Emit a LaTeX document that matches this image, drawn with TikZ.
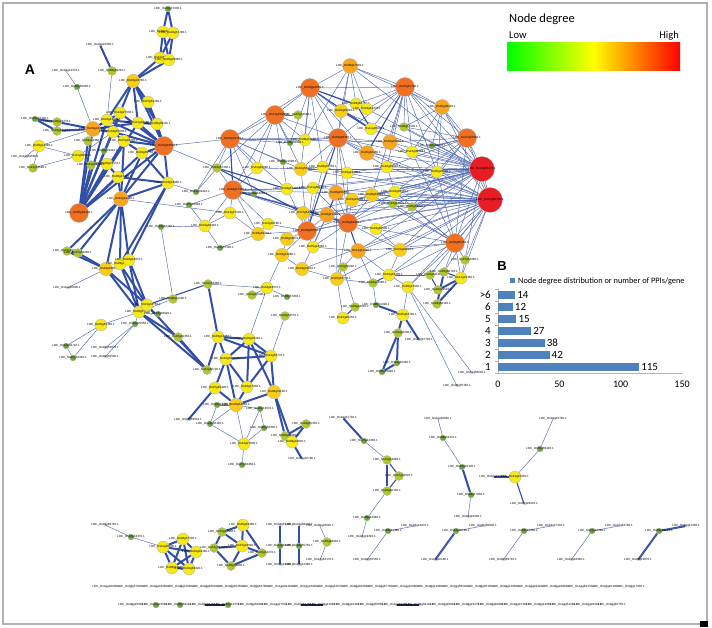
\documentclass[tikz,border=0pt]{standalone}
\usepackage{fontspec}
\setmainfont{Carlito}
\newfontfamily\arialfont{Liberation Sans}
\pgfdeclarelayer{edges}
\pgfsetlayers{edges,main}

\definecolor{dgA}{RGB}{112,168,56}
\definecolor{dgB}{RGB}{175,200,45}
\definecolor{dgC}{RGB}{248,232,20}
\definecolor{dgD}{RGB}{250,205,20}
\definecolor{dgE}{RGB}{247,165,30}
\definecolor{dgF}{RGB}{240,112,35}
\definecolor{dgG}{RGB}{232,28,36}
\definecolor{edgeblue}{RGB}{50,78,165}
\definecolor{navy}{RGB}{25,35,90}
\definecolor{barblue}{RGB}{79,129,189}

\tikzset{
  gene/.style={circle, draw=black!30, line width=0.3pt, inner sep=0pt},
  deg0/.style={circle, fill=black!75, inner sep=0pt, minimum size=1.2pt},
  deg1/.style={gene, fill=dgA, minimum size=6pt},
  deg2/.style={gene, fill=dgB, minimum size=9pt},
  deg3/.style={gene, fill=dgC, minimum size=12pt},
  deg4/.style={gene, fill=dgD, minimum size=13.5pt},
  deg5/.style={gene, fill=dgE, minimum size=15pt},
  deg6/.style={gene, fill=dgF, minimum size=19pt},
  deg7/.style={gene, fill=dgG, minimum size=25pt},
  lbl/.style={font=\arialfont\fontsize{3}{3}\selectfont, inner sep=0pt},
  soft/.style={draw=edgeblue!85, line width=0.45pt},
  mid/.style={draw=edgeblue, line width=1.1pt},
  hard/.style={draw=edgeblue, line width=2pt},
  chart/.style={font=\fontsize{11}{11}\selectfont, inner sep=1pt},
}

% gene node: name, x, y, degree class, seed for the id
\newcommand{\gene}[5]{%
  \pgfmathtruncatemacro\gchr{mod((#5)*7,12)+1}%
  \pgfmathtruncatemacro\gna{mod((#5)*37,60)+10}%
  \pgfmathtruncatemacro\gnb{mod((#5)*53,90)*10+100}%
  \edef\gtxt{LOC\noexpand\_Os\ifnum\gchr<10 0\fi\gchr g\gna\gnb.1}%
  \node[deg#4, label={[lbl]center:\gtxt}] (#1) at (#2,#3) {};}

\begin{document}
\begin{tikzpicture}[x=1pt, y=-1pt]
  \useasboundingbox (0,0) rectangle (712,628);
  \draw[black!30, line width=1.2pt] (3,3) rectangle (707,624);
  \fill[black] (700,621) rectangle (708,627);

  % big cluster
  \foreach \n/\x/\y/\d [count=\i] in {m1/350/66/5, m2/310/88/6, m3/405/87/6, m4/442/107/5, m5/275/115/6,
    m6/298/115/2, m7/341/111/4, m8/356/104/3, m9/367/109/3, m10/371/129/3, m11/404/127/2, m12/230/139/6,
    m13/305/140/3, m14/338/138/6, m15/390/142/5, m16/367/153/5, m17/412/152/3, m18/467/138/6, m19/432/146/1,
    m20/290/143/1, m21/217/168/2, m22/257/168/3, m23/283/162/1, m24/301/169/4, m25/323/167/3, m26/347/173/3,
    m27/387/167/3, m28/437/172/3, m29/482/169/7, m30/490/200/7, m31/233/190/6, m32/254/194/1, m33/287/189/3,
    m34/313/188/3, m35/336/193/5, m36/352/200/4, m37/372/195/4, m38/395/192/3, m39/393/204/2, m40/412/207/2,
    m41/230/213/3, m42/303/213/4, m43/327/215/5, m44/348/223/6, m45/307/231/6, m46/268/224/3, m47/258/234/4,
    m48/205/226/3, m49/287/239/4, m50/376/229/3, m51/220/248/1, m52/313/247/3, m53/358/251/5, m54/400/250/4,
    m55/455/243/6, m56/282/255/4, m57/302/269/4, m58/343/267/2, m59/337/279/4, m60/389/275/3, m61/408/287/3,
    m62/373/283/2, m63/430/275/2, m64/444/272/2, m65/461/278/3, m66/465/260/2, m67/438/290/2, m68/437/304/2,
    m69/267/288/3, m70/252/295/2, m71/287/297/1, m72/208/284/2, m73/376/305/1, m74/355/307/2, m75/343/318/3,
    m76/403/315/3, m77/196/192/1, m78/189/205/1, m79/285/316/2, m80/398/333/2, m81/419/340/0, m82/397/363/1,
    m83/382/372/1, m84/472/373/0, m85/457/386/0}
    {\gene{\n}{\x}{\y}{\d}{\i}}

  % left cluster
  \foreach \n/\x/\y/\d [count=\i] in {l1/168/9/1, l2/163/32/3, l3/173/33/3, l4/160/58/3, l5/169/60/3,
    l6/100/45/0, l7/112/71/2, l8/133/81/4, l9/66/71/0, l10/77/87/1, l11/120/113/3, l12/148/102/3,
    l13/107/120/3, l14/93/129/5, l15/113/132/3, l16/138/123/3, l17/157/124/3, l18/164/146/6, l19/57/122/2,
    l20/57/131/2, l21/35/119/1, l22/39/146/3, l23/33/168/2, l24/124/141/3, l25/142/153/3, l26/88/141/2,
    l27/104/151/1, l28/78/156/3, l29/107/164/3, l30/91/165/2, l31/118/177/3, l32/168/183/3, l33/121/199/5,
    l34/79/213/6, l35/67/251/2, l36/78/253/2, l37/106/269/4, l38/120/264/3, l39/129/260/3, l40/67/288/0,
    l41/139/312/3, l42/147/305/3, l43/173/299/2, l44/158/314/1, l45/135/324/1, l46/101/325/3, l47/66/346/1,
    l48/73/358/1, l49/105/348/0, l50/105/357/0, l51/161/227/1, l52/25/157/0}
    {\gene{\n}{\x}{\y}{\d}{\i+90}}

  % lower middle cluster
  \foreach \n/\x/\y/\d [count=\i] in {q1/218/337/3, q2/226/359/3, q3/249/339/3, q4/271/356/3, q5/215/388/3,
    q6/247/387/3, q7/236/405/4, q8/274/392/4, q9/207/370/2, q10/178/337/2, q11/217/405/1, q12/188/420/0,
    q13/210/424/1, q14/260/409/1, q15/264/428/1, q16/244/444/3, q17/242/465/1, q18/285/436/2, q19/292/442/3,
    q20/306/424/2, q21/302/459/0}
    {\gene{\n}{\x}{\y}{\d}{\i+145}}

  % small pieces
  \foreach \n/\x/\y/\d [count=\i] in {g1/343/418/0, g2/364/441/1, g3/387/460/2, g4/399/476/2, g5/387/491/2,
    g6/367/518/1, g7/362/537/0, h1/438/419/0, h2/443/438/1, h3/462/467/1, h4/471/495/1, h5/468/517/0,
    k1/553/419/0, k2/540/449/1, k3/515/477/3, k4/493/477/0, k5/524/504/0,
    b1/105/525/0, b2/131/537/1, b3/163/547/3, b4/183/539/3, b5/196/552/3, b6/172/568/3, b7/189/569/3,
    c1/222/532/2, c2/243/525/3, c3/214/548/2, c4/242/546/3, c5/262/553/2, c6/231/566/2,
    e1/280/525/0, e2/280/546/1, e3/280/565/0, e4/299/525/0, e5/299/546/1, e6/299/565/0,
    f1/327/542/2, f2/320/526/0, f3/320/560/0}
    {\gene{\n}{\x}{\y}{\d}{\i+170}}
  \foreach \x [count=\i] in {388,456,524,592,659} {
    \gene{pa\i}{\x}{531}{1}{\i+212}
    \gene{pb\i}{\x+27}{526}{0}{\i+218}
    \gene{pc\i}{\x-21}{560}{0}{\i+224}
  }

  % rows of pairs
  \foreach \i in {0,...,21} {\gene{ra\i}{106+\i*25}{587}{0}{\i+250}}
  \foreach \d [count=\i from 0] in {0,1,1,0,1,0,0,0,0,0,0,0,0,0,0,0,0,0,0,0,0}
    {\gene{rb\i}{132+\i*24}{605}{\d}{\i+275}}

  \begin{pgfonlayer}{edges}
    % hubs of the big cluster
    \foreach \h/\ts in {
      m29/{m1,m3,m4,m7,m9,m10,m11,m14,m15,m16,m17,m18,m19,m24,m26,m27,m28,m30,m33,m34,m35,m36,m37,m38,m40,m42,m43,m44,m45,m50,m53,m54,m55,m66},
      m30/{m3,m4,m14,m15,m16,m18,m24,m26,m27,m28,m34,m35,m36,m37,m38,m39,m40,m42,m43,m44,m45,m50,m53,m54,m55,m57,m59,m60,m61,m63,m64,m65,m66},
      m2/{m1,m3,m5,m7,m8,m12,m13,m14,m16,m20,m24,m25},
      m3/{m1,m4,m8,m9,m10,m11,m14,m15,m17,m18,m27,m28,m37},
      m5/{m6,m12,m13,m14,m20,m21,m22,m24,m31,m33},
      m12/{m13,m14,m15,m20,m21,m22,m23,m24,m31,m32,m33},
      m14/{m7,m13,m15,m16,m24,m25,m26,m27,m35,m44},
      m18/{m4,m11,m15,m17,m19,m27,m28,m38,m40,m55},
      m31/{m21,m22,m32,m33,m34,m35,m41,m42,m43,m46,m47,m48},
      m44/{m26,m34,m35,m36,m37,m38,m42,m43,m45,m50,m52,m54,m59},
      m45/{m24,m25,m33,m34,m42,m43,m46,m47,m49,m52,m56},
      m55/{m17,m28,m37,m38,m39,m40,m50,m53,m54,m60,m61,m64,m65,m66},
      m1/{m4,m7,m8,m9,m13,m14}}
      {\foreach \t in \ts {\draw[soft] (\h) -- (\t);}}
    \foreach \a/\b in {m4/m11, m4/m17, m4/m28, m4/m19, m22/m24, m24/m25, m25/m26, m26/m27, m27/m38,
      m36/m37, m33/m34, m41/m48, m41/m47, m46/m47, m49/m56, m56/m57, m57/m59, m52/m53, m53/m58, m58/m59,
      m59/m62, m60/m61, m53/m60, m54/m60, m48/m51, m47/m51, m72/m69, m69/m70, m69/m71, m56/m69, m43/m57,
      m35/m59, m50/m54, m43/m52, m77/m12, m77/m21, m78/m31, m78/m48, m65/m66, m61/m76, m61/m84, m61/m85,
      m60/m63, m62/m53, m74/m58, m75/m59, m73/m62, m79/q4, m69/q3}
      {\draw[soft] (\a) -- (\b);}
    \foreach \a/\b in {m2/m10, m2/m9, m7/m10, m21/m42, m21/m33, m12/m31, m31/m44, m14/m45, m35/m43,
      m44/m53, m62/m60, m3/m16, m8/m10, m63/m67, m64/m65, m74/m75, l42/m72}
      {\draw[mid] (\a) -- (\b);}
    \foreach \a/\b in {m73/m76, m76/m80, m80/m82, m80/m83, m82/m83, m76/m81, m65/m68, m64/m68, m67/m65}
      {\draw[hard] (\a) -- (\b);}

    % left cluster
    \foreach \a/\b in {l1/l2, l1/l3, l2/l3, l2/l4, l2/l5, l3/l4, l3/l5, l4/l5, l4/l8, l5/l8, l6/l7,
      l8/l11, l8/l12, l8/l13, l8/l16, l8/l17, l8/l18, l12/l17, l12/l18, l11/l14, l11/l15, l11/l18, l13/l14,
      l13/l16, l13/l18, l14/l19, l14/l20, l19/l21, l20/l21, l19/l20, l14/l15, l14/l16, l15/l18, l16/l18,
      l17/l18, l16/l17, l24/l18, l25/l18, l15/l24, l24/l25, l18/l32, l25/l32, l31/l32, l33/l32, l25/l33,
      l31/l33, l24/l33, l18/l33, l29/l31, l34/l11, l34/l13, l34/l14, l34/l15, l34/l16, l34/l24, l34/l25,
      l34/l26, l34/l29, l34/l30, l34/l31, l34/l18, l35/l33, l36/l33, l35/l37, l36/l37, l35/l36, l37/l33,
      l38/l33, l39/l33, l39/l32, l38/l32, l37/l41, l37/l42, l38/l41, l38/l42, l39/l41, l39/l42, l41/q9,
      l42/q9, l41/q10, q10/q9}
      {\draw[hard] (\a) -- (\b);}
    \foreach \a/\b in {l7/l13, l9/l10, l10/l14, l22/l14, l22/l23, l22/l28, l23/l28, l52/l22, l26/l14,
      l27/l15, l28/l15, l30/l29, l37/l40, l46/l41, l46/l47, l46/l48, l47/l48, l45/l41, l45/l49, l45/l50,
      l44/l41, l43/l41, l43/l51, l51/m48, l32/m77, l33/m41, l18/m12, l18/m21}
      {\draw[soft] (\a) -- (\b);}

    % lower middle cluster
    \foreach \a/\b in {m72/q1, q9/q1, q1/q3, q1/q2, q1/q4, q2/q3, q2/q4, q2/q6, q2/q7, q3/q4, q3/q6,
      q3/q8, q4/q6, q4/q8, q2/q5, q5/q7, q6/q7, q7/q8, q5/q12, q8/q18, q8/q19, q18/q19, q19/q20,
      q18/q20, q19/q21}
      {\draw[hard] (\a) -- (\b);}
    \foreach \a/\b in {q7/q11, q7/q13, q7/q14, q7/q16, q14/q16, q15/q16, q13/q16, q16/q17, q15/q14, q11/q13}
      {\draw[soft] (\a) -- (\b);}

    % small pieces
    \foreach \a/\b in {b3/b4, b3/b5, b3/b6, b3/b7, b4/b5, b4/b6, b4/b7, b5/b6, b5/b7, b6/b7,
      c1/c2, c1/c3, c1/c4, c2/c4, c2/c5, c3/c4, c3/c6, c4/c5, c4/c6, c5/c6,
      g1/g2, g3/g5, h3/h4, k3/k4, pa2/pc2, pa5/pb5, pa5/pc5}
      {\draw[hard] (\a) -- (\b);}
    \foreach \a/\b in {g3/g4, g4/g5, e1/e2, e2/e3, e4/e5, e5/e6, k3/k5}
      {\draw[mid] (\a) -- (\b);}
    \foreach \a/\b in {b1/b2, b2/b3, f1/f2, f1/f3, g2/g3, g5/g6, g6/g7, h1/h2, h2/h3, h4/h5, k1/k2, k2/k3}
      {\draw[soft] (\a) -- (\b);}
    \foreach \i in {1,...,5} {\draw[soft] (pa\i) -- (pb\i); \draw[soft] (pa\i) -- (pc\i);}
    \foreach \a/\b in {rb3/rb4, rb7/rb8, rb11/rb12}
      {\draw[navy, line width=1.5pt] (\a) -- (\b);}
  \end{pgfonlayer}

  % panel letters
  \node[font=\arialfont\bfseries\fontsize{14}{14}\selectfont] (panelA) at (30,70) {A};
  \node[font=\arialfont\bfseries\fontsize{13}{13}\selectfont] (panelB) at (502,266) {B};

  % colour key
  \shade[left color=green, right color=red, middle color=yellow] (507,43) rectangle (680,71);
  \node[anchor=base west, inner sep=0pt, font=\fontsize{12.5}{13}\selectfont] (keytitle) at (509,23) {Node degree};
  \node[anchor=base west, inner sep=0pt, font=\fontsize{10.5}{11}\selectfont] (keylow) at (509,39) {Low};
  \node[anchor=base east, inner sep=0pt, font=\fontsize{10.5}{11}\selectfont] (keyhigh) at (679,39) {High};

  % bar chart
  \fill[barblue] (510,278) rectangle (515,283);
  \node[anchor=west, inner sep=0pt, font=\fontsize{8.3}{8.3}\selectfont] (chartkey) at (518,281)
    {Node degree distribution or number of PPIs/gene};
  \draw[black!30, line width=0.6pt] (498,289) -- (498,373) -- (682,373);
  \foreach \y in {289,301,...,373} {\draw[black!30, line width=0.6pt] (495,\y) -- (498,\y);}
  \foreach \c/\v/\y in {{>6}/14/295, 6/12/307, 5/15/319, 4/27/331, 3/38/343, 2/42/355, 1/115/367} {
    \fill[barblue] (498,\y-3.8) rectangle ({498+\v*1.227},\y+3.8);
    \node[chart, anchor=east] (cat\y) at (492,\y) {\c};
    \node[chart, anchor=west] (val\y) at ({499+\v*1.227},\y) {\v};
  }
  \foreach \t in {0,50,100,150}
    {\node[chart, font=\fontsize{10}{10}\selectfont] (tick\t) at ({498+\t*1.227},384) {\t};}
\end{tikzpicture}
\end{document}
